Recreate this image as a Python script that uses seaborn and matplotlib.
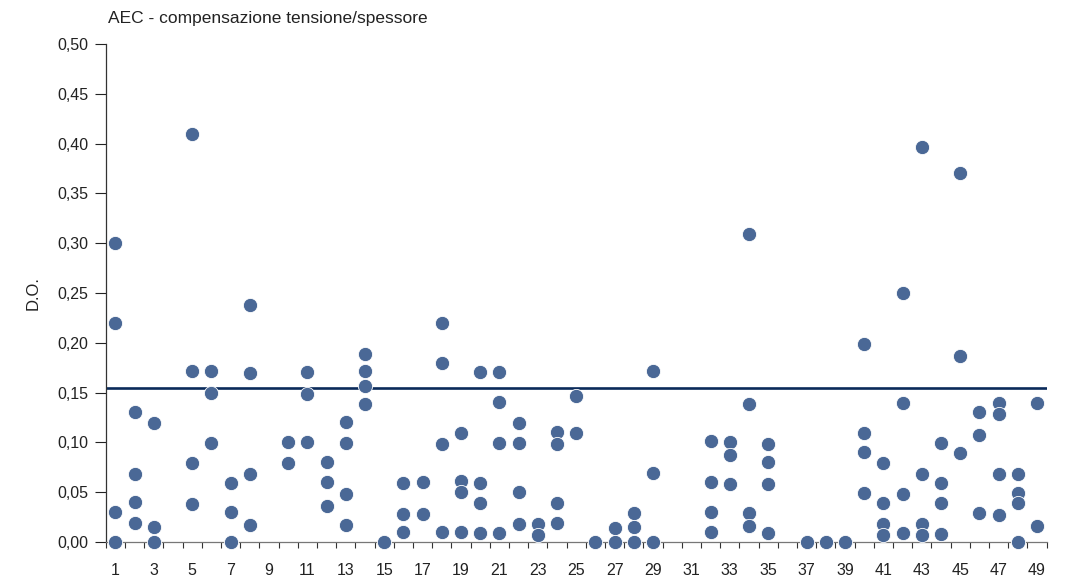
import matplotlib
matplotlib.use("Agg")
import matplotlib.pyplot as plt
import seaborn as sns
import pandas as pd
import numpy as np

# ---- data (category number -> D.O. values) ----
cat_01 = [0.30, 0.22, 0.03, 0.00]
cat_02 = [0.13, 0.068, 0.04, 0.019]
cat_03 = [0.119, 0.015, 0.00]
cat_05 = [0.41, 0.172, 0.079, 0.038]
cat_06 = [0.172, 0.15, 0.099]
cat_07 = [0.059, 0.03, 0.00]
cat_08 = [0.238, 0.17, 0.068, 0.017]
cat_10 = [0.10, 0.079]
cat_11 = [0.171, 0.149, 0.10]
cat_12 = [0.08, 0.06, 0.036]
cat_13 = [0.12, 0.099, 0.048, 0.017]
cat_14 = [0.189, 0.172, 0.157, 0.139]
cat_15 = [0.00]
cat_16 = [0.059, 0.028, 0.01]
cat_17 = [0.06, 0.028]
cat_18 = [0.22, 0.18, 0.098, 0.01]
cat_19 = [0.109, 0.061, 0.05, 0.01]
cat_20 = [0.171, 0.059, 0.039, 0.009]
cat_21 = [0.171, 0.141, 0.099, 0.009]
cat_22 = [0.119, 0.099, 0.05, 0.018]
cat_23 = [0.018, 0.007]
cat_24 = [0.11, 0.098, 0.039, 0.019]
cat_25 = [0.147, 0.109]
cat_26 = [0.00]
cat_27 = [0.014, 0.00]
cat_28 = [0.029, 0.015, 0.00]
cat_29 = [0.172, 0.069, 0.00]
cat_32 = [0.101, 0.06, 0.03, 0.01]
cat_33 = [0.10, 0.087, 0.058]
cat_34 = [0.309, 0.139, 0.029, 0.016]
cat_35 = [0.098, 0.08, 0.058, 0.009]
cat_37 = [0.00]
cat_38 = [0.00]
cat_39 = [0.00]
cat_40 = [0.199, 0.109, 0.09, 0.049]
cat_41 = [0.079, 0.039, 0.018, 0.007]
cat_42 = [0.25, 0.14, 0.048, 0.009]
cat_43 = [0.397, 0.068, 0.018, 0.007]
cat_44 = [0.099, 0.059, 0.039, 0.008]
cat_45 = [0.37, 0.187, 0.089]
cat_46 = [0.13, 0.107, 0.029]
cat_47 = [0.14, 0.128, 0.068, 0.027]
cat_48 = [0.068, 0.049, 0.039, 0.00]
cat_49 = [0.14, 0.016]

threshold = 0.155
n_categories = 49
title = "AEC - compensazione tensione/spessore"
y_label = "D.O."
y_ticks = [0.00, 0.05, 0.10, 0.15, 0.20, 0.25, 0.30, 0.35, 0.40, 0.45, 0.50]

series = {
    1: cat_01, 2: cat_02, 3: cat_03, 5: cat_05, 6: cat_06, 7: cat_07, 8: cat_08,
    10: cat_10, 11: cat_11, 12: cat_12, 13: cat_13, 14: cat_14, 15: cat_15,
    16: cat_16, 17: cat_17, 18: cat_18, 19: cat_19, 20: cat_20, 21: cat_21,
    22: cat_22, 23: cat_23, 24: cat_24, 25: cat_25, 26: cat_26, 27: cat_27,
    28: cat_28, 29: cat_29, 32: cat_32, 33: cat_33, 34: cat_34, 35: cat_35,
    37: cat_37, 38: cat_38, 39: cat_39, 40: cat_40, 41: cat_41, 42: cat_42,
    43: cat_43, 44: cat_44, 45: cat_45, 46: cat_46, 47: cat_47, 48: cat_48,
    49: cat_49,
}
rows = [(k, v) for k, vals in series.items() for v in vals]
df = pd.DataFrame(rows, columns=["cat", "do"])

# ---- style ----
sns.set_theme(style="white")
font = ["Liberation Sans Narrow", "Liberation Sans", "DejaVu Sans"]
plt.rcParams["font.family"] = font

fig = plt.figure(figsize=(10.68, 5.79), dpi=100)
ax = fig.add_axes([0.099, 0.064, 0.881, 0.860])

dot_color = "#4a6896"
sns.scatterplot(data=df, x="cat", y="do", ax=ax, s=105, color=dot_color,
                edgecolor="white", linewidth=0.6, clip_on=False, zorder=3,
                legend=False)
ax.axhline(threshold, color="#0a2a5a", linewidth=1.9, zorder=2)

ax.set_xlim(0.5, n_categories + 0.5)
ax.set_ylim(0, 0.5)

odd = list(range(1, n_categories + 1, 2))
ax.set_xticks(odd)
ax.set_xticklabels([str(i) for i in odd])
ax.set_xticks(np.arange(0.5, n_categories + 1, 1.0), minor=True)
ax.tick_params(axis="x", which="major", length=0, pad=15, labelsize=11.5,
               colors="#222222")
ax.tick_params(axis="x", which="minor", length=4, width=0.8, color="#333333",
               direction="out", bottom=True)

ax.set_yticks(y_ticks)
ax.set_yticklabels([f"{t:.2f}".replace(".", ",") for t in y_ticks])
ax.tick_params(axis="y", which="major", length=7.7, width=0.8, color="#555555",
               direction="out", left=True, labelsize=11.5, colors="#222222", pad=5)
ax.tick_params(axis="y", colors="#222222")

for side in ["top", "right"]:
    ax.spines[side].set_visible(False)
ax.spines["left"].set_color("#333333")
ax.spines["left"].set_linewidth(0.9)
ax.spines["bottom"].set_color("#777777")
ax.spines["bottom"].set_linewidth(0.9)

ax.set_xlabel("")
ax.set_ylabel(y_label, fontsize=12, color="#222222", labelpad=12)
fig.text(0.1012, 0.968, title, fontsize=12.5, color="#222222",
         ha="left", va="center")

fig.savefig("out.png", dpi=100)
